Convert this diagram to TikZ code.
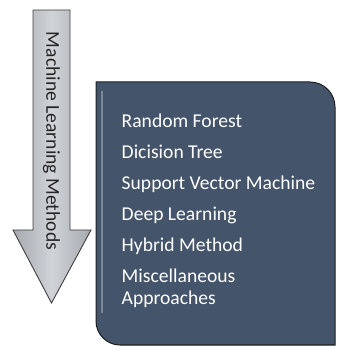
\documentclass[tikz,border=0pt]{standalone}
\usepackage{fontspec}
\setmainfont{Carlito}
\usetikzlibrary{positioning,calc}

\definecolor{panelblue}{HTML}{44546A}
\definecolor{panelline}{HTML}{1F1F1F}
\definecolor{arrowedge}{HTML}{3F3F3F}
\definecolor{arrowlight}{HTML}{D0D3D7}
\definecolor{arrowdark}{HTML}{A6A9AE}

\begin{document}
\begin{tikzpicture}[
    x=1pt, y=1pt,
    flow/.style={draw=arrowedge, line width=0.9pt, line join=miter, left color=arrowdark, right color=arrowdark, middle color=arrowlight},
    panel/.style={draw=panelline, line width=1pt, fill=panelblue},
    glint/.style={draw=white, opacity=0.3, line width=1.2pt},
    flowtext/.style={font=\fontsize{19.6}{21.7}\selectfont, text=black!85, inner sep=0pt},
    listtext/.style={font=\fontsize{19.6}{21.7}\selectfont, text=white, align=left, inner sep=0pt}
]
\useasboundingbox (0,0) rectangle (337,349);

% Downward arrow
\coordinate (tip) at (51.5,46);
\draw[flow] (33,339) -- (70,339) -- (70,119) -- (91,119) -- (tip) -- (13,119) -- (33,119) -- cycle;
\node[flowtext, rotate=-90] (heading) at (51.5,208) {Machine Learning Methods};

% Panel with the list
\draw[panel] (96,267) -- (310,267) arc[start angle=90, end angle=0, radius=25]
    -- (335,4) -- (120,4) arc[start angle=270, end angle=180, radius=24] -- cycle;
\draw[glint] (102,258) -- (102,36);

\node[listtext, anchor=north west] (methods) at (121.5,235.5) {Random Forest\\[9.3pt]
Dicision Tree\\[9.3pt]
Support Vector Machine\\[9.3pt]
Deep Learning\\[9.3pt]
Hybrid Method\\[9.3pt]
Miscellaneous\\
Approaches};

\end{tikzpicture}
\end{document}
